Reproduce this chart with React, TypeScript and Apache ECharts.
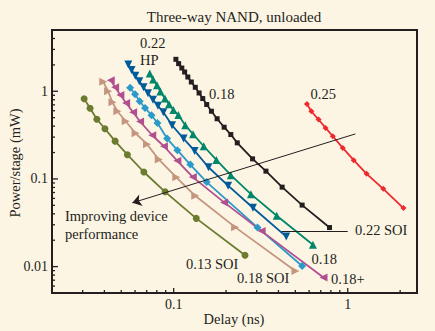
import React, { useEffect, useRef } from "react";
import * as echarts from "echarts";

// ---------- data ----------
const soi013Delay = [0.0306, 0.0331, 0.0362, 0.0403, 0.0461, 0.0542, 0.0674, 0.0893, 0.1348, 0.257];
const soi013Power = [0.821, 0.64, 0.48, 0.374, 0.27, 0.189, 0.12, 0.0713, 0.0355, 0.01345];

const soi018Delay = [0.0394, 0.042, 0.0445, 0.0475, 0.053, 0.0604, 0.0703, 0.0821, 0.1036, 0.133, 0.2253, 0.5005];
const soi018Power = [1.283, 1.0, 0.749, 0.592, 0.455, 0.332, 0.249, 0.167, 0.1043, 0.0642, 0.0282, 0.00891];

const plus018Delay = [0.0435, 0.0461, 0.0494, 0.0533, 0.0585, 0.0641, 0.0753, 0.0879, 0.105, 0.1288, 0.195, 0.32, 0.726];
const plus018Power = [1.334, 1.11, 0.908, 0.736, 0.577, 0.452, 0.315, 0.236, 0.161, 0.105, 0.054, 0.0254, 0.00752];

const blue018Delay = [0.0562, 0.06, 0.0638, 0.0685, 0.0746, 0.0807, 0.0917, 0.105, 0.1246, 0.1548, 0.303, 0.547];
const blue018Power = [1.096, 0.924, 0.769, 0.645, 0.533, 0.435, 0.289, 0.213, 0.146, 0.092, 0.028, 0.01016];

const soi022Delay = [0.0549, 0.0573, 0.0602, 0.0635, 0.0671, 0.0712, 0.0761, 0.0812, 0.0873, 0.0979, 0.114, 0.132, 0.1585, 0.2055, 0.2853, 0.4435];
const soi022Power = [2.014, 1.744, 1.502, 1.3, 1.11, 0.949, 0.8, 0.684, 0.576, 0.41, 0.289, 0.209, 0.136, 0.0839, 0.0469, 0.022];

const hp022Delay = [0.0729, 0.0762, 0.0802, 0.0839, 0.0891, 0.0941, 0.0996, 0.1064, 0.1166, 0.1292, 0.1489, 0.176, 0.213, 0.278, 0.391, 0.631];
const hp022Power = [1.591, 1.359, 1.17, 0.992, 0.826, 0.711, 0.612, 0.536, 0.41, 0.324, 0.236, 0.1646, 0.1105, 0.0671, 0.038, 0.01775];

const black018Delay = [0.103, 0.1068, 0.1114, 0.1156, 0.1206, 0.1263, 0.1331, 0.14, 0.1469, 0.1548, 0.1648, 0.1777, 0.195, 0.213, 0.232, 0.284, 0.339, 0.42, 0.547, 0.786];
const black018Power = [2.315, 2.068, 1.842, 1.659, 1.455, 1.276, 1.11, 0.956, 0.826, 0.706, 0.592, 0.486, 0.389, 0.321, 0.258, 0.1694, 0.1227, 0.0806, 0.0503, 0.0279];

const red025Delay = [0.583, 0.618, 0.68, 0.746, 0.821, 0.936, 1.082, 1.284, 1.6, 2.089];
const red025Power = [0.717, 0.592, 0.476, 0.382, 0.307, 0.226, 0.1638, 0.1143, 0.0771, 0.0465];

// axes
const X_MIN = 0.02;
const X_MAX = 2.5;
const Y_MIN = 0.005;
const Y_MAX = 5;
const xMajorTicks = [0.1, 1];
const xMinorTicks = [0.03, 0.04, 0.05, 0.06, 0.07, 0.08, 0.09, 0.2, 0.3, 0.4, 0.5, 0.6, 0.7, 0.8, 0.9, 2];
const yMajorTicks = [0.01, 0.1, 1];
const yMinorTicks = [0.006, 0.007, 0.008, 0.009, 0.02, 0.03, 0.04, 0.05, 0.06, 0.07, 0.08, 0.09, 0.2, 0.3, 0.4, 0.5, 0.6, 0.7, 0.8, 0.9, 2, 3, 4];
const xTickLabels: Record<string, string> = { "-1": "0.1", "0": "1" };
const yTickLabels: Record<string, string> = { "-2": "0.01", "-1": "0.1", "0": "1" };

// annotation arrow (data coords)
const arrowFrom = [1.107, 0.3265];
const arrowTo = [0.0579, 0.0534];
const leaderFrom = [0.4164, 0.02544];
const leaderTo = [1.0, 0.02544];

const FONT = "'Liberation Serif', 'Times New Roman', serif";
const INK = "#231f20";
const BG = "#fdf5e4";

function zip(a: number[], b: number[]) {
  return a.map((v, i) => [v, b[i]]);
}

export default function App() {
  const ref = useRef<HTMLDivElement>(null);
  useEffect(() => {
    if (!ref.current) return;
    const chart = echarts.init(ref.current, undefined, { renderer: "svg" });

    const lineSeries = (
      name: string,
      xs: number[],
      ys: number[],
      color: string,
      symbol: string,
      size: number,
      rotate = 0,
      extra: any = {}
    ) => ({
      name,
      type: "line",
      data: zip(xs, ys),
      symbol,
      symbolSize: size,
      symbolRotate: rotate,
      showSymbol: true,
      lineStyle: { color, width: 1.8 },
      itemStyle: { color },
      z: 3,
      ...extra,
    });

    const tickRender = (axis: "x" | "y") => (params: any, api: any) => {
      const v = api.value(axis === "x" ? 0 : 1);
      const len = api.value(2);
      const p = axis === "x" ? api.coord([v, Y_MIN]) : api.coord([X_MIN, v]);
      const shape =
        axis === "x"
          ? { x1: p[0], y1: p[1], x2: p[0], y2: p[1] - len }
          : { x1: p[0], y1: p[1], x2: p[0] + len, y2: p[1] };
      return { type: "line", shape, style: { stroke: INK, lineWidth: 1.3 } };
    };

    const text = (t: string, x: number, y: number, size = 14.5, align = "left") => ({
      type: "text",
      x,
      y,
      style: {
        text: t,
        fill: INK,
        font: `${size}px ${FONT}`,
        textAlign: align,
        textVerticalAlign: "middle",
      },
      z: 10,
    });

    chart.setOption({
      animation: false,
      backgroundColor: BG,
      grid: {
        left: 52,
        right: 18,
        top: 30,
        bottom: 38,
        show: true,
        borderColor: INK,
        borderWidth: 2,
        backgroundColor: "transparent",
      },
      xAxis: {
        type: "log",
        logBase: 10,
        min: X_MIN,
        max: X_MAX,
        axisLine: { show: false },
        axisTick: { show: false },
        splitLine: { show: false },
        axisLabel: {
          showMinLabel: false,
          showMaxLabel: false,
          margin: 4,
          color: INK,
          fontFamily: FONT,
          fontSize: 14,
          formatter: (v: number) => xTickLabels[String(Math.round(Math.log10(v)))] ?? "",
        },
      },
      yAxis: {
        type: "log",
        logBase: 10,
        min: Y_MIN,
        max: Y_MAX,
        axisLine: { show: false },
        axisTick: { show: false },
        splitLine: { show: false },
        axisLabel: {
          showMinLabel: false,
          showMaxLabel: false,
          margin: 4,
          color: INK,
          fontFamily: FONT,
          fontSize: 14,
          formatter: (v: number) => yTickLabels[String(Math.round(Math.log10(v)))] ?? "",
        },
      },
      graphic: [
        text("Three-way NAND, unloaded", 234, 17, 15, "center"),
        text("Delay (ns)", 234, 319, 14.5, "center"),
        {
          type: "text",
          x: 15,
          y: 163,
          rotation: Math.PI / 2,
          style: {
            text: "Power/stage (mW)",
            fill: INK,
            font: `14.5px ${FONT}`,
            textAlign: "center",
            textVerticalAlign: "middle",
          },
        },
        text("0.22", 140, 42.5),
        text("HP", 140, 60),
        text("0.18", 209, 94),
        text("0.25", 310.5, 94),
        text("0.22 SOI", 355, 229.5),
        text("Improving device", 65, 216),
        text("performance", 65, 233.5),
        text("0.13 SOI", 186, 264),
        text("0.18", 311.5, 258.5),
        text("0.18 SOI", 237, 278),
        text("0.18+", 331, 278.5),
      ],
      series: [
        {
          type: "custom",
          renderItem: tickRender("x"),
          data: [
            ...xMajorTicks.map((v) => [v, Y_MIN, 5]),
            ...xMinorTicks.map((v) => [v, Y_MIN, 3]),
          ],
          silent: true,
          z: 4,
        },
        {
          type: "custom",
          renderItem: tickRender("y"),
          data: [
            ...yMajorTicks.map((v) => [X_MIN, v, 6]),
            ...yMinorTicks.map((v) => [X_MIN, v, 3]),
          ],
          silent: true,
          z: 4,
        },
        lineSeries("0.13 SOI", soi013Delay, soi013Power, "#6b7b30", "circle", 7),
        lineSeries("0.18 SOI", soi018Delay, soi018Power, "#c4967f", "triangle", 8, -90),
        lineSeries("0.18", blue018Delay, blue018Power, "#2a9acb", "diamond", 8),
        lineSeries("0.18+", plus018Delay, plus018Power, "#b0508f", "triangle", 8, 90),
        lineSeries("0.22 SOI", soi022Delay, soi022Power, "#005b9a", "triangle", 8, 180, {
          markLine: {
            silent: true,
            symbol: ["none", "none"],
            label: { show: false },
            lineStyle: { color: INK, width: 1, type: "solid" },
            data: [[{ coord: leaderFrom }, { coord: leaderTo }]],
          },
        }),
        lineSeries("0.22 HP", hp022Delay, hp022Power, "#00876a", "triangle", 8, 0),
        lineSeries("0.18 black", black018Delay, black018Power, INK, "rect", 5),
        lineSeries("0.25", red025Delay, red025Power, "#ee2a2e", "diamond", 6, 0, {
          markLine: {
            silent: true,
            symbol: ["none", "arrow"],
            symbolSize: 9,
            label: { show: false },
            lineStyle: { color: INK, width: 1, type: "solid" },
            itemStyle: { color: INK },
            data: [[{ coord: arrowFrom }, { coord: arrowTo }]],
          },
        }),
      ],
    });
    return () => chart.dispose();
  }, []);
  return (
    <div
      ref={ref}
      style={{ position: "fixed", left: 0, top: 0, width: 435, height: 331 }}
    />
  );
}
